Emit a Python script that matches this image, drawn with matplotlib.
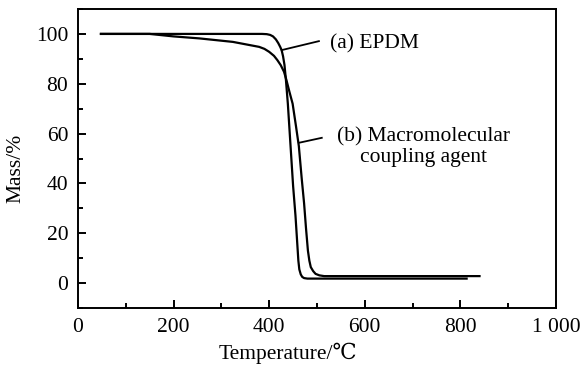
import matplotlib
matplotlib.use("Agg")
import matplotlib.pyplot as plt
from matplotlib.ticker import MultipleLocator, FixedLocator, FixedFormatter

plt.rcParams['font.family'] = ['Liberation Serif', 'DejaVu Serif', 'DejaVu Sans']

# TGA curves: temperature (°C) vs residual mass (%)
temp_epdm = [48, 150, 250, 350, 385, 395, 402, 408, 414, 419, 423, 426, 429,
             432, 435, 439, 444, 450, 455, 459, 461, 463, 466, 469, 473, 480,
             600, 700, 813]
mass_epdm = [100, 100, 100, 100, 100, 99.9, 99.6, 99.0, 97.8, 96.3, 94.8, 93.5,
             91, 87.5, 81.5, 72, 57, 39, 27, 15, 9, 5.5, 3.5, 2.5, 2.0, 1.8,
             1.8, 1.8, 1.8]

temp_mca = [48, 150, 165, 200, 254, 324, 379, 390, 400, 410, 417, 424, 431, 436,
            442, 449, 456, 462, 468, 473, 477, 481, 484, 487, 492, 497, 505,
            515, 600, 700, 840]
mass_mca = [100, 100, 99.7, 99, 98.2, 96.8, 94.8, 94, 92.8, 91.2, 89.5, 87.5,
            84.8, 81.5, 77, 72, 63, 55, 42, 32, 22, 13, 9, 6.4, 4.8, 3.7, 3.1,
            2.8, 2.8, 2.8, 2.8]

x_ticks = [0, 200, 400, 600, 800, 1000]
x_tick_labels = ['0', '200', '400', '600', '800', '1 000']
y_ticks = [0, 20, 40, 60, 80, 100]
y_tick_labels = ['0', '20', '40', '60', '80', '100']

W, H = 581, 382
fig = plt.figure(figsize=(W / 100, H / 100), dpi=100)
ax = fig.add_axes([78 / W, (H - 308) / H, (556 - 78) / W, (308 - 9) / H])

ax.plot(temp_epdm, mass_epdm, color='black', lw=1.6)
ax.plot(temp_mca, mass_mca, color='black', lw=1.6)

ax.set_xlim(0, 1000)
ax.set_ylim(-10, 110)

ax.xaxis.set_major_locator(FixedLocator(x_ticks))
ax.xaxis.set_major_formatter(FixedFormatter(x_tick_labels))
ax.yaxis.set_major_locator(FixedLocator(y_ticks))
ax.yaxis.set_major_formatter(FixedFormatter(y_tick_labels))
ax.xaxis.set_minor_locator(MultipleLocator(100))
ax.yaxis.set_minor_locator(MultipleLocator(10))

ax.tick_params(which='both', direction='in', top=False, right=False,
               labelsize=15.5, width=1.4)
ax.tick_params(which='major', length=6, pad=7)
ax.tick_params(which='minor', length=3.5)
for s in ax.spines.values():
    s.set_linewidth(1.4)

# leader lines and labels
ax.plot([426, 504], [93.5, 97.1], color='black', lw=1.3)
ax.text(528, 96.2, '(a) EPDM', fontsize=15.5, ha='left', va='center')
ax.plot([462, 510], [56.3, 58.3], color='black', lw=1.3)
ax.text(723, 54.5, '(b) Macromolecular\ncoupling agent', fontsize=15.5,
        ha='center', va='center', multialignment='center', linespacing=1.1)

fig.text(16 / W, 1 - 168 / H, 'Mass/%', rotation=90, fontsize=15.5,
         ha='center', va='center')
fig.text(288 / W, 1 - 353 / H, 'Temperature/℃', fontsize=15.5,
         ha='center', va='center')

fig.savefig('out.png', dpi=100, facecolor='white')
